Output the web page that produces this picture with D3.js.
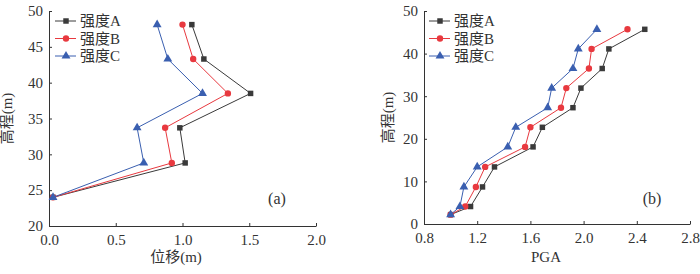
<!DOCTYPE html>
<html>
<head>
<meta charset="utf-8">
<script src="https://cdn.jsdelivr.net/npm/d3@7"></script>
<style>
  body { margin: 0; background: #fff; }
  svg text { font-family: "Liberation Serif", "Noto Sans CJK SC", serif; fill: #333; }
</style>
</head>
<body>
<svg width="700" height="274"></svg>
<script>
// chart (a): displacement vs elevation
var elevA = [48.1, 43.3, 38.5, 33.7, 28.8, 24.0]
var dispA = [1.07, 1.16, 1.51, 0.98, 1.02, 0.03]
var dispB = [1.00, 1.08, 1.34, 0.87, 0.92, 0.03]
var dispC = [0.81, 0.89, 1.15, 0.66, 0.71, 0.03]
var xTicksA = [0.0, 0.5, 1.0, 1.5, 2.0]
var yTicksA = [20, 25, 30, 35, 40, 45, 50]

// chart (b): PGA vs elevation
var elevB = [2.2, 4.1, 8.7, 13.4, 18.1, 22.7, 27.3, 31.9, 36.5, 41.1, 45.7]
var pgaA = [1.00, 1.15, 1.24, 1.33, 1.62, 1.69, 1.92, 1.98, 2.14, 2.19, 2.46]
var pgaB = [1.00, 1.11, 1.19, 1.26, 1.56, 1.60, 1.83, 1.87, 2.04, 2.06, 2.33]
var pgaC = [1.00, 1.07, 1.10, 1.20, 1.43, 1.49, 1.73, 1.76, 1.92, 1.96, 2.10]
var xTicksB = [0.8, 1.2, 1.6, 2.0, 2.4, 2.8]
var yTicksB = [0, 10, 20, 30, 40, 50]

var seriesNames = ["强度A", "强度B", "强度C"]
var colors = ["#3a3a3a", "#e8393f", "#3a5fb0"]
var shapes = [d3.symbolSquare, d3.symbolCircle, d3.symbolTriangle]
var sizes = [30, 32, 34]

var svg = d3.select("svg")

function drawPanel(cfg) {
    var g = svg.append("g")
    var x = d3.scaleLinear().domain(cfg.xDomain).range([cfg.left, cfg.right])
    var y = d3.scaleLinear().domain(cfg.yDomain).range([cfg.bottom, cfg.top])

    g.append("g").attr("transform", "translate(0," + cfg.bottom + ")")
        .call(d3.axisBottom(x).tickValues(cfg.xTicks).tickFormat(cfg.xFmt).tickSizeInner(-3).tickSizeOuter(0).tickPadding(8))
    g.append("g").attr("transform", "translate(" + cfg.left + ",0)")
        .call(d3.axisLeft(y).tickValues(cfg.yTicks).tickFormat(d3.format("d")).tickSizeInner(-3).tickSizeOuter(0).tickPadding(6))
    g.selectAll(".domain, .tick line").attr("stroke", "#333")
    g.selectAll(".tick text").attr("font-size", 15).attr("fill", "#333")
        .style("font-family", '"Liberation Serif", serif')

    var line = d3.line().x(d => x(d[0])).y(d => y(d[1]))
    cfg.series.forEach((vals, i) => {
        var pts = vals.map((v, j) => [v, cfg.elev[j]])
        g.append("path").attr("d", line(pts)).attr("fill", "none")
            .attr("stroke", colors[i]).attr("stroke-width", 1)
        g.selectAll(".m" + i).data(pts).enter().append("path")
            .attr("transform", d => "translate(" + x(d[0]) + "," + y(d[1]) + ")")
            .attr("d", d3.symbol().type(shapes[i]).size(sizes[i]))
            .attr("fill", colors[i])
    })

    // legend
    seriesNames.forEach((name, i) => {
        var ly = cfg.legY + i * 17.5
        g.append("line").attr("x1", cfg.legX).attr("x2", cfg.legX + 21)
            .attr("y1", ly).attr("y2", ly).attr("stroke", colors[i])
        g.append("path").attr("transform", "translate(" + (cfg.legX + 11) + "," + ly + ")")
            .attr("d", d3.symbol().type(shapes[i]).size(sizes[i])).attr("fill", colors[i])
        g.append("text").attr("x", cfg.legX + 25).attr("y", ly + 5)
            .attr("font-size", 15).text(name)
    })

    g.append("text").attr("x", cfg.labX).attr("y", 262).attr("text-anchor", "middle")
        .attr("font-size", 15).text(cfg.xLabel)
    g.append("text").attr("transform", "translate(" + cfg.yLabX + "," + ((cfg.top + cfg.bottom) / 2) + ") rotate(-90)")
        .attr("text-anchor", "middle").attr("font-size", 15).text("高程(m)")
    g.append("text").attr("x", cfg.tagX).attr("y", 204).attr("text-anchor", "middle")
        .attr("font-size", 16).text(cfg.tag)
}

drawPanel({
    left: 49, right: 316, top: 11, bottom: 226,
    xDomain: [0, 2], yDomain: [20, 50],
    xTicks: xTicksA, yTicks: yTicksA, xFmt: d3.format(".1f"),
    elev: elevA, series: [dispA, dispB, dispC],
    legX: 55, legY: 21, labX: 176, yLabX: 12, tagX: 277, tag: "(a)", xLabel: "位移(m)"
})

drawPanel({
    left: 424, right: 690, top: 11, bottom: 224,
    xDomain: [0.8, 2.8], yDomain: [0, 50],
    xTicks: xTicksB, yTicks: yTicksB, xFmt: d3.format(".1f"),
    elev: elevB, series: [pgaA, pgaB, pgaC],
    legX: 429, legY: 21, labX: 546, yLabX: 393, tagX: 652, tag: "(b)", xLabel: "PGA"
})
</script>
</body>
</html>
